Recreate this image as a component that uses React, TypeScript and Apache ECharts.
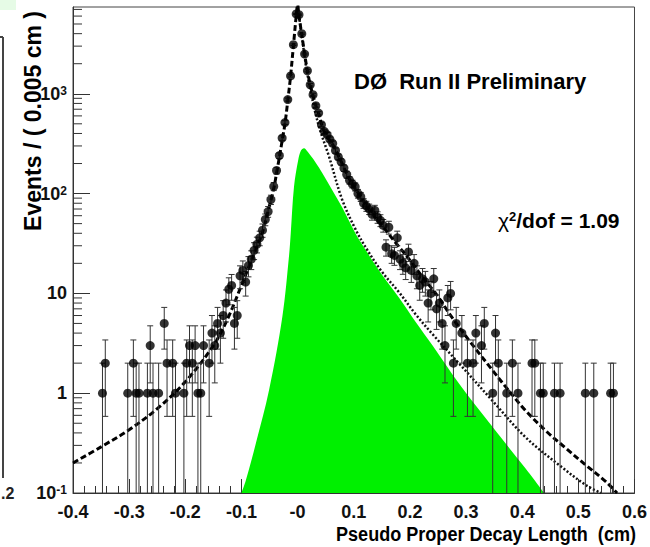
import React, { useEffect, useRef } from 'react';
import * as echarts from 'echarts';

const X_MIN = -0.4;
const X_MAX = 0.6;
const Y_MIN = 0.1;
const Y_MAX = 7400;
const FONT = 'Liberation Sans, Arial, Helvetica, sans-serif';

// Data histogram (bin centre in cm, events per 0.005 cm)
const binCenters = [
  -0.3475, -0.3425, -0.3025, -0.2925, -0.2875, -0.2825, -0.2675, -0.2625, -0.2575, -0.2475,
  -0.2375, -0.2325, -0.2225, -0.2175, -0.2025, -0.1975, -0.1925, -0.1875, -0.1825, -0.1775,
  -0.1725, -0.1675, -0.1575, -0.1525, -0.1475, -0.1425, -0.1375, -0.1325, -0.1275, -0.1225,
  -0.1175, -0.1125, -0.1075, -0.1025, -0.0975, -0.0925, -0.0875, -0.0825, -0.0775, -0.0725,
  -0.0675, -0.0625, -0.0575, -0.0525, -0.0475, -0.0425, -0.0375, -0.0325, -0.0275, -0.0225,
  -0.0175, -0.0125, -0.0075, -0.0025, 0.0025, 0.0075, 0.0125, 0.0175, 0.0225, 0.0275,
  0.0325, 0.0375, 0.0425, 0.0475, 0.0525, 0.0575, 0.0625, 0.0675, 0.0725, 0.0775,
  0.0825, 0.0875, 0.0925, 0.0975, 0.1025, 0.1075, 0.1125, 0.1175, 0.1225, 0.1275,
  0.1325, 0.1375, 0.1425, 0.1475, 0.1525, 0.1575, 0.1625, 0.1675, 0.1725, 0.1775,
  0.1825, 0.1875, 0.1925, 0.1975, 0.2025, 0.2075, 0.2125, 0.2175, 0.2225, 0.2275,
  0.2325, 0.2375, 0.2425, 0.2475, 0.2525, 0.2575, 0.2625, 0.2675, 0.2725, 0.2775,
  0.2825, 0.2925, 0.3025, 0.3125, 0.3175, 0.3275, 0.3325, 0.3475, 0.3525, 0.3575,
  0.3725, 0.3825, 0.3925, 0.4175, 0.4225, 0.4325, 0.4375, 0.4575, 0.4675, 0.5125,
  0.5275, 0.5575, 0.5625,
];
const binCounts = [
  1, 2, 1, 2, 1, 1, 1, 3, 1, 1,
  5, 2, 2, 1, 1, 2, 3, 2, 3, 1,
  1, 3, 2, 4, 3, 5, 4, 6, 8, 11,
  12, 5, 6, 15, 17, 13, 19, 22, 27, 31,
  36, 43, 55, 66, 87, 118, 170, 240, 360, 515,
  875, 1510, 3100, 6300, 6200, 4000, 2500, 1700, 1230, 980,
  760, 640, 490, 420, 390, 350, 318, 270, 233, 208,
  180, 155, 136, 125, 117, 100, 93, 80, 75, 70,
  62, 68, 58, 54, 48, 29, 46, 25, 24, 36,
  22, 20, 18, 26, 17, 20, 15, 12, 14, 13,
  8, 10, 14, 7, 8, 5, 3, 9, 10, 2,
  5, 4, 2, 2, 4, 3, 5, 1, 4, 2,
  1, 2, 1, 2, 2, 1, 1, 1, 1, 1,
  1, 1, 1,
];

// Total fit (dashed)
const totalFitX = [
  -0.4, -0.35, -0.3, -0.25, -0.2, -0.15, -0.125, -0.1, -0.0875,
  -0.075, -0.0625, -0.05, -0.0425, -0.0375, -0.0325, -0.0275, -0.0225, -0.0175, -0.0125,
  -0.0075, -0.0025, 0.0, 0.0025, 0.0075, 0.0125, 0.0175, 0.0225, 0.0275, 0.0325,
  0.0375, 0.0425, 0.05, 0.0625, 0.075, 0.09, 0.1, 0.1125, 0.125, 0.15,
  0.175, 0.2, 0.225, 0.25, 0.27, 0.305, 0.347, 0.371, 0.406, 0.442,
  0.478, 0.5135, 0.549, 0.569,
];
const totalFitY = [
  0.2, 0.29, 0.43, 0.7, 1.3, 3.0, 5.5, 12, 18,
  27, 41, 76, 112, 160, 230, 340, 500, 850, 1500,
  3000, 6000, 7800, 6000, 3900, 2500, 1700, 1230, 960, 760,
  630, 500, 390, 310, 225, 148, 118, 93, 72, 48,
  32, 21.5, 14, 9.3, 6.3, 3.4, 1.7, 1.15, 0.67, 0.42,
  0.28, 0.19, 0.13, 0.1,
];

// Partial fit component (dotted)
const partFitX = [
  0.0025, 0.0075, 0.015, 0.025, 0.038, 0.056, 0.079, 0.103, 0.1236, 0.15,
  0.181, 0.21, 0.2404, 0.287, 0.347, 0.4064, 0.466, 0.5135, 0.54,
];
const partFitY = [
  6000, 3800, 1900, 950, 470, 235, 88, 44, 27.5, 16.5,
  10.2, 6.2, 3.9, 2.0, 0.84, 0.36, 0.19, 0.12, 0.1,
];

// Signal component (green)
const signalX = [
  -0.1, -0.092, -0.0743, -0.0507, -0.0271, -0.0152, -0.0122, -0.0064, 0.0012, 0.006,
  0.0113, 0.018, 0.032, 0.0442, 0.0675, 0.0798, 0.103, 0.1215, 0.15, 0.181,
  0.21, 0.2404, 0.2874, 0.347, 0.4064, 0.439,
];
const signalY = [
  0.1, 0.135, 0.315, 1.08, 5.85, 24, 40, 117, 218, 270,
  285, 262, 205, 160, 95, 72, 40, 27, 15.5, 9.0,
  5.2, 3.0, 1.25, 0.46, 0.175, 0.1,
];

const zip = (xs: number[], ys: number[]) => xs.map((x, i) => [x, ys[i]]);

export default function App() {
  const ref = useRef<HTMLDivElement>(null);

  useEffect(() => {
    const chart = echarts.init(ref.current!, null, { renderer: 'svg' });

    const minorTicks: number[][] = [];
    for (let e = -1; e <= 3; e++) {
      for (let m = 2; m <= 9; m++) {
        const v = m * Math.pow(10, e);
        if (v < Y_MAX) minorTicks.push([X_MIN, v]);
      }
    }

    const axisColor = '#333';

    const option: any = {
      animation: false,
      backgroundColor: '#ffffff',
      grid: {
        left: 73,
        right: 13,
        top: 7,
        bottom: 54,
        show: true,
        borderColor: '#444',
        borderWidth: 1,
        containLabel: false,
      },
      xAxis: {
        type: 'value',
        min: X_MIN,
        max: X_MAX,
        interval: 0.1,
        axisLine: { show: true, onZero: false, lineStyle: { color: axisColor, width: 1 } },
        axisTick: { show: true, inside: true, length: 14, lineStyle: { color: axisColor } },
        minorTick: { show: true, splitNumber: 5, length: 7, lineStyle: { color: axisColor } },
        splitLine: { show: false },
        axisLabel: {
          color: '#111',
          fontFamily: FONT,
          fontWeight: 'bold',
          fontSize: 18,
          margin: 10,
          formatter: (v: number) => {
            const r = Math.round(v * 10) / 10;
            if (r === 0) return '-0';
            return r.toFixed(1);
          },
        },
      },
      yAxis: {
        type: 'log',
        logBase: 10,
        min: Y_MIN,
        max: Y_MAX,
        axisLine: { show: true, onZero: false, lineStyle: { color: axisColor, width: 1 } },
        axisTick: { show: true, inside: true, length: 17, lineStyle: { color: axisColor } },
        splitLine: { show: false },
        axisLabel: {
          color: '#111',
          fontFamily: FONT,
          fontWeight: 'bold',
          fontSize: 18,
          margin: 6,
          showMaxLabel: false,
          formatter: (v: number) => {
            const e = Math.log10(v);
            const r = Math.round(e);
            if (Math.abs(e - r) > 1e-6) return '';
            if (r === 0) return '1';
            if (r === 1) return '10';
            return '{b|10}{s|' + r + '}';
          },
          rich: {
            b: { fontFamily: FONT, fontWeight: 'bold', fontSize: 18, color: '#111' },
            s: { fontFamily: FONT, fontWeight: 'bold', fontSize: 12, color: '#111', verticalAlign: 'top', lineHeight: 12 },
          },
        },
      },
      series: [
        {
          type: 'line',
          name: 'signal',
          data: zip(signalX, signalY),
          symbol: 'none',
          smooth: 0.35,
          lineStyle: { width: 0, color: '#00f000' },
          areaStyle: { color: '#00f000', opacity: 1, origin: 'start' },
          z: 1,
        },
        {
          type: 'custom',
          name: 'minorTicks',
          data: minorTicks,
          silent: true,
          renderItem: (params: any, api: any) => {
            const p = api.coord([X_MIN, api.value(1)]);
            return {
              type: 'line',
              shape: { x1: p[0], y1: p[1], x2: p[0] + 9, y2: p[1] },
              style: { stroke: axisColor, lineWidth: 1 },
            };
          },
          z: 2,
        },
        {
          type: 'line',
          name: 'partial fit',
          data: zip(partFitX, partFitY),
          symbol: 'none',
          smooth: 0.35,
          lineStyle: { color: '#111', width: 2.5, type: [2, 2] },
          z: 3,
        },
        {
          type: 'line',
          name: 'total fit',
          data: zip(totalFitX, totalFitY),
          symbol: 'none',
          smooth: 0.35,
          lineStyle: { color: '#000', width: 3, type: [6, 3] },
          z: 4,
        },
        {
          type: 'custom',
          name: 'errors',
          data: zip(binCenters, binCounts),
          clip: true,
          renderItem: (params: any, api: any) => {
            const x = api.value(0);
            const n = api.value(1);
            const s = Math.sqrt(n);
            const hi = n + s;
            const lo = n - s;
            const pTop = api.coord([x, hi]);
            const pBot = api.coord([x, lo > Y_MIN ? lo : Y_MIN]);
            const children: any[] = [
              { type: 'line', shape: { x1: pTop[0], y1: pTop[1], x2: pBot[0], y2: pBot[1] }, style: { stroke: '#333', lineWidth: 1 } },
              { type: 'line', shape: { x1: pTop[0] - 3, y1: pTop[1], x2: pTop[0] + 3, y2: pTop[1] }, style: { stroke: '#333', lineWidth: 1 } },
            ];
            if (lo > Y_MIN) {
              children.push({ type: 'line', shape: { x1: pBot[0] - 3, y1: pBot[1], x2: pBot[0] + 3, y2: pBot[1] }, style: { stroke: '#333', lineWidth: 1 } });
            }
            return { type: 'group', children };
          },
          z: 5,
        },
        {
          type: 'scatter',
          name: 'data',
          data: zip(binCenters, binCounts),
          symbol: 'circle',
          symbolSize: 9,
          itemStyle: { color: '#000' },
          z: 6,
        },
      ],
      graphic: [
        { type: 'rect', left: 0, top: 0, shape: { x: 0, y: 0, width: 16, height: 10 }, style: { fill: '#e6fbe6' } },
        { type: 'line', shape: { x1: 3, y1: 37, x2: 3, y2: 478 }, style: { stroke: '#444', lineWidth: 2 } },
        { type: 'line', shape: { x1: 0, y1: 37, x2: 3, y2: 37 }, style: { stroke: '#444', lineWidth: 2 } },
        {
          type: 'text', x: 1, y: 493,
          style: { text: '.2', fill: '#222', font: 'bold 16px ' + FONT, textAlign: 'left', textVerticalAlign: 'middle' },
        },
        {
          type: 'text', x: 354, y: 81,
          style: { text: 'DØ  Run II Preliminary', fill: '#000', font: 'bold 22px ' + FONT, textAlign: 'left', textVerticalAlign: 'middle' },
        },
        {
          type: 'text', x: 498, y: 220,
          style: {
            text: '{c|χ}{s|2}{n|/dof = 1.09}',
            textAlign: 'left',
            textVerticalAlign: 'middle',
            rich: {
              c: { fontFamily: FONT, fontSize: 21, color: '#000' },
              s: { fontFamily: FONT, fontWeight: 'bold', fontSize: 13, color: '#000', verticalAlign: 'top', lineHeight: 13 },
              n: { fontFamily: FONT, fontWeight: 'bold', fontSize: 21, color: '#000' },
            },
          },
        },
        {
          type: 'text', x: 33, y: 121, rotation: Math.PI / 2,
          style: { text: 'Events / ( 0.005 cm )', fill: '#000', font: 'bold 23px ' + FONT, textAlign: 'center', textVerticalAlign: 'middle' },
        },
        {
          type: 'text', x: 636, y: 533, scaleX: 0.86,
          style: { text: 'Pseudo Proper Decay Length  (cm)', fill: '#000', font: 'bold 21px ' + FONT, textAlign: 'right', textVerticalAlign: 'middle' },
        },
      ],
    };

    chart.setOption(option);
    return () => chart.dispose();
  }, []);

  return <div ref={ref} style={{ position: 'absolute', left: 0, top: 0, width: 650, height: 547 }} />;
}
